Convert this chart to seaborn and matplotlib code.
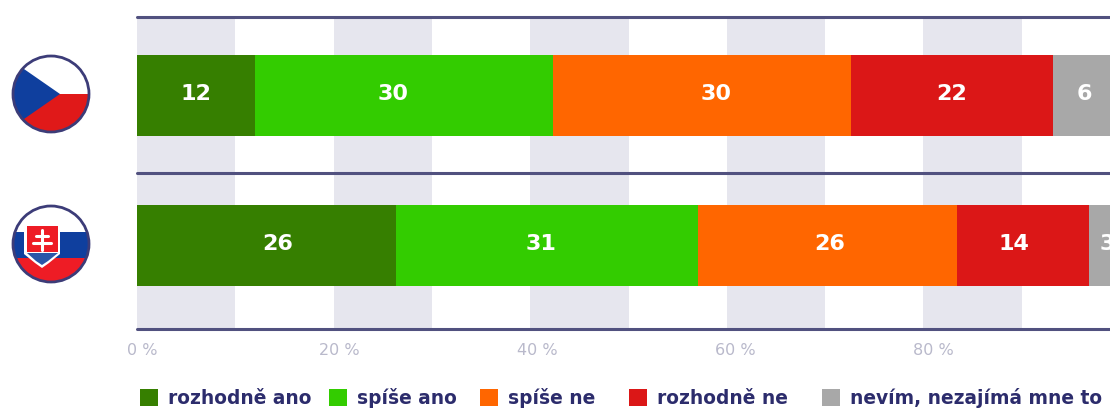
import matplotlib
matplotlib.use("Agg")
import matplotlib.pyplot as plt
from matplotlib.patches import Circle, Polygon, Rectangle, Patch
from matplotlib.transforms import ScaledTranslation
import pandas as pd
import seaborn as sns

countries = ["CZ", "SK"]
series_names = ["rozhodně ano", "spíše ano", "spíše ne", "rozhodně ne", "nevím, nezajímá mne to"]
cz_values = [11.9, 30.0, 30.0, 20.3, 7.8]
sk_values = [26.1, 30.4, 26.1, 13.3, 4.1]
cz_labels = ["12", "30", "30", "22", "6"]
sk_labels = ["26", "31", "26", "14", "3"]
tick_values = [0, 20, 40, 60, 80]
tick_labels = ["0 %", "20 %", "40 %", "60 %", "80 %"]
colors = ["#367f00", "#33cc00", "#ff6600", "#db1717", "#a8a8a8"]

# label nudges in pixels, matching the hand placement of the original
cz_nudge = [0, -11, 14, 0, -7]
sk_nudge = [11, -6, 2, -9, -2]
GRID_SCALE = 0.99   # the original's grid runs slightly tighter than its bars
TICK_SCALE = 0.996  # and its tick labels sit on a scale of their own
LEGEND_X = [140, 329, 480, 629, 822]  # left edge of each legend key, pixels

W, H, DPI = 1110, 409, 100
INK = "#2c2c6c"
RULE = "#51517f"
BAND = "#e6e6ee"

sns.set_theme(style="white")
fig = plt.figure(figsize=(W / DPI, H / DPI), dpi=DPI, facecolor="white")
ax = fig.add_axes([137 / W, 1 - 329 / H, (W - 137) / W, 312 / H])

rows = []
for country, vals in zip(countries, [cz_values, sk_values]):
    total = 0
    for name, v in zip(series_names, vals):
        total += v
        rows.append({"country": country, "series": name, "value": v, "cum": total})
df = pd.DataFrame(rows)

# Stacked bars: cumulative totals drawn from the longest to the shortest
for name, color in reversed(list(zip(series_names, colors))):
    sub = df[df["series"] == name]
    sns.barplot(data=sub, y="country", x="cum", order=countries, orient="h",
                color=color, saturation=1, width=0.54, ax=ax, zorder=3,
                linewidth=0, errorbar=None)

ax.set_xlim(0, (W - 137) / 9.93)
ax.set_ylim(1.555, -0.525)
ax.set_xlabel("")
ax.set_ylabel("")
ax.set_yticks([])
sns.despine(ax=ax, left=True, bottom=True)

for t in tick_values:
    ax.axvspan(t * GRID_SCALE, (t + 10) * GRID_SCALE, color=BAND, lw=0, zorder=0)
for y in (-0.525, 0.515, 1.555):
    ax.axhline(y, color=RULE, lw=2.2, zorder=4, clip_on=False)

ax.set_xticks([t * TICK_SCALE for t in tick_values])
ax.set_xticklabels(tick_labels, color="#b9b9cb", fontsize=11.5, fontfamily="DejaVu Sans")
ax.tick_params(axis="x", length=0, pad=10)
shift = ScaledTranslation(5 / DPI, 0, fig.dpi_scale_trans)
for lab in ax.get_xticklabels():
    lab.set_transform(lab.get_transform() + shift)

for row, (vals, labs, nudges) in enumerate(zip([cz_values, sk_values],
                                               [cz_labels, sk_labels],
                                               [cz_nudge, sk_nudge])):
    left = 0
    for v, lab, n in zip(vals, labs, nudges):
        ax.annotate(lab, xy=(left + v / 2, row), xytext=(n * 72 / DPI, 2 * 72 / DPI),
                    textcoords="offset points", ha="center", va="center",
                    color="white", fontsize=16, fontweight="bold",
                    fontfamily="DejaVu Sans", zorder=5, annotation_clip=False)
        left += v

# Flags, in a pixel-coordinate overlay
ov = fig.add_axes([0, 0, 1, 1], facecolor="none")
ov.set_xlim(0, W)
ov.set_ylim(H, 0)
ov.axis("off")


def flag(cx, cy, r, parts):
    clip = Circle((cx, cy), r, transform=ov.transData)
    for p in parts:
        ov.add_patch(p)
        p.set_clip_path(clip)


def ring(cx, cy, r):
    ov.add_patch(Circle((cx, cy), r, fill=False, ec="#3c3c78", lw=2, zorder=6))


cx, cy, r = 51, 94, 38
flag(cx, cy, r, [
    Rectangle((cx - r, cy - r), 2 * r, r, fc="white", lw=0),
    Rectangle((cx - r, cy), 2 * r, r, fc="#e01919", lw=0),
    Polygon([(cx - 40, cy - 34), (cx + 9, cy), (cx - 40, cy + 34)], fc="#0f3f9e", lw=0),
])
ring(cx, cy, r)
cy = 244
flag(cx, cy, r, [
    Rectangle((cx - r, cy - r), 2 * r, 26, fc="white", lw=0),
    Rectangle((cx - r, cy - 12), 2 * r, 26, fc="#0f3f9e", lw=0),
    Rectangle((cx - r, cy + 14), 2 * r, 24, fc="#ee1c25", lw=0),
])
ov.add_patch(Polygon([(cx - 27, cy - 20), (cx + 9, cy - 20), (cx + 9, cy + 10), (cx - 2, cy + 19),
                      (cx - 9, cy + 24), (cx - 16, cy + 19), (cx - 27, cy + 10)],
                     fc="white", lw=0))
ov.add_patch(Polygon([(cx - 24, cy - 18), (cx + 7, cy - 18), (cx + 7, cy + 8), (cx - 24, cy + 8)],
                     fc="#ee1c25", lw=0))
ov.add_patch(Polygon([(cx - 24, cy + 9), (cx + 7, cy + 9), (cx - 3, cy + 17),
                      (cx - 9, cy + 21), (cx - 15, cy + 17)], fc="#2a56a8", lw=0))
ov.plot([cx - 9, cx - 9], [cy - 14, cy + 6], color="white", lw=2.2)
ov.plot([cx - 15, cx - 3], [cy - 8, cy - 8], color="white", lw=2.2)
ov.plot([cx - 18, cx], [cy - 1, cy - 1], color="white", lw=2.2)
ring(cx, cy, r)

# One single-entry legend per key: the original's gaps between keys are uneven.
# Anchored at the bottom so that all the baselines agree.
for x, c, n in zip(LEGEND_X, colors, series_names):
    fig.legend(handles=[Patch(fc=c, lw=0, label=n)], loc="lower left",
               bbox_to_anchor=(x / W, 1 - 408 / H), frameon=False,
               prop={"family": "DejaVu Sans", "weight": "bold", "size": 13.4},
               labelcolor=INK, handlelength=0.97, handleheight=0.97, handletextpad=0.55,
               borderpad=0, borderaxespad=0)

fig.savefig("out.png", dpi=DPI, facecolor="white")
